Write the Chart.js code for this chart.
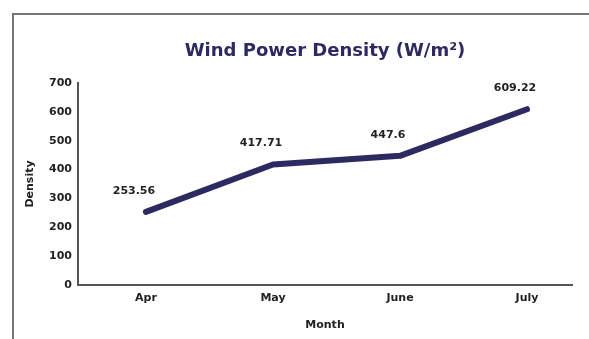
<!DOCTYPE html>
<html>
<head>
<meta charset="utf-8">
<script src="https://cdn.jsdelivr.net/npm/chart.js@4.4.1/dist/chart.umd.min.js"></script>
<style>
  html, body { margin: 0; padding: 0; background: #fff; }
  #wrap { position: relative; width: 589px; height: 339px; overflow: hidden; }
  #frame { position: absolute; left: 12px; top: 13px; width: 600px; height: 400px;
           border-left: 2px solid #777; border-top: 2px solid #777; }
  canvas { position: absolute; left: 0; top: 0; }
</style>
</head>
<body>
<div id="wrap">
  <div id="frame"></div>
  <canvas id="chart" width="589" height="339"></canvas>
</div>
<script>
"use strict";

// ===== DATA =====
const months = ['Apr', 'May', 'June', 'July'];
const density = [253.56, 417.71, 447.6, 609.22];
const densityLabels = ['253.56', '417.71', '447.6', '609.22'];
const yTicks = [0, 100, 200, 300, 400, 500, 600, 700];
const chartTitle = 'Wind Power Density (W/m²)';

const navy = '#2c2a60';
const axisGrey = '#555555';
const FONT = '"DejaVu Sans", "Liberation Sans", Arial, sans-serif';

// Title centred over the plot area, plus value labels above each point
const overlayText = {
    id: 'overlayText',
    afterDatasetsDraw(chart) {
        const ctx = chart.ctx;
        const area = chart.chartArea;
        const meta = chart.getDatasetMeta(0);
        ctx.save();
        ctx.textAlign = 'center';
        ctx.textBaseline = 'middle';

        ctx.font = 'bold 18px ' + FONT;
        ctx.fillStyle = navy;
        ctx.fillText(chartTitle, (area.left + area.right) / 2, 51);

        ctx.font = 'bold 11px ' + FONT;
        ctx.fillStyle = '#222';
        meta.data.forEach((pt, i) => {
            ctx.fillText(densityLabels[i], pt.x - 12, pt.y - 21);
        });
        ctx.restore();
    }
};

function initChart() {
    const ctx = document.getElementById('chart');
    const points = density.map((v, i) => ({ x: i, y: v }));

    new Chart(ctx, {
        type: 'line',
        data: {
            datasets: [{
                data: points,
                borderColor: navy,
                borderWidth: 6,
                pointRadius: 0,
                tension: 0,
                borderCapStyle: 'round',
                borderJoinStyle: 'round'
            }]
        },
        options: {
            responsive: false,
            animation: false,
            layout: { padding: { left: 0, right: 17, top: 83, bottom: 0 } },
            plugins: {
                legend: { display: false },
                tooltip: { enabled: false },
                title: { display: false }
            },
            scales: {
                x: {
                    type: 'linear',
                    min: -0.535,
                    max: 3.354,
                    afterBuildTicks: (scale) => { scale.ticks = months.map((m, i) => ({ value: i })); },
                    afterFit: (scale) => { scale.height = 54; },
                    grid: { display: false, drawTicks: false },
                    border: { display: true, color: axisGrey, width: 2 },
                    ticks: {
                        padding: 7,
                        color: '#222',
                        font: { family: FONT, size: 11, weight: 'bold' },
                        callback: (v) => months[v]
                    },
                    title: {
                        display: true,
                        text: 'Month',
                        color: '#222',
                        padding: { top: 0, bottom: 7 },
                        font: { family: FONT, size: 11, weight: 'bold' }
                    }
                },
                y: {
                    min: 0,
                    max: 700,
                    afterBuildTicks: (scale) => { scale.ticks = yTicks.map(v => ({ value: v })); },
                    afterFit: (scale) => { scale.width = 78; },
                    grid: { display: false, drawTicks: false },
                    border: { display: true, color: axisGrey, width: 2 },
                    ticks: {
                        padding: 6,
                        color: '#222',
                        font: { family: FONT, size: 11, weight: 'bold' }
                    },
                    title: {
                        display: true,
                        text: 'Density',
                        color: '#222',
                        padding: 24,
                        font: { family: FONT, size: 11, weight: 'bold' }
                    }
                }
            }
        },
        plugins: [overlayText]
    });
}

document.addEventListener('DOMContentLoaded', initChart);
</script>
</body>
</html>
